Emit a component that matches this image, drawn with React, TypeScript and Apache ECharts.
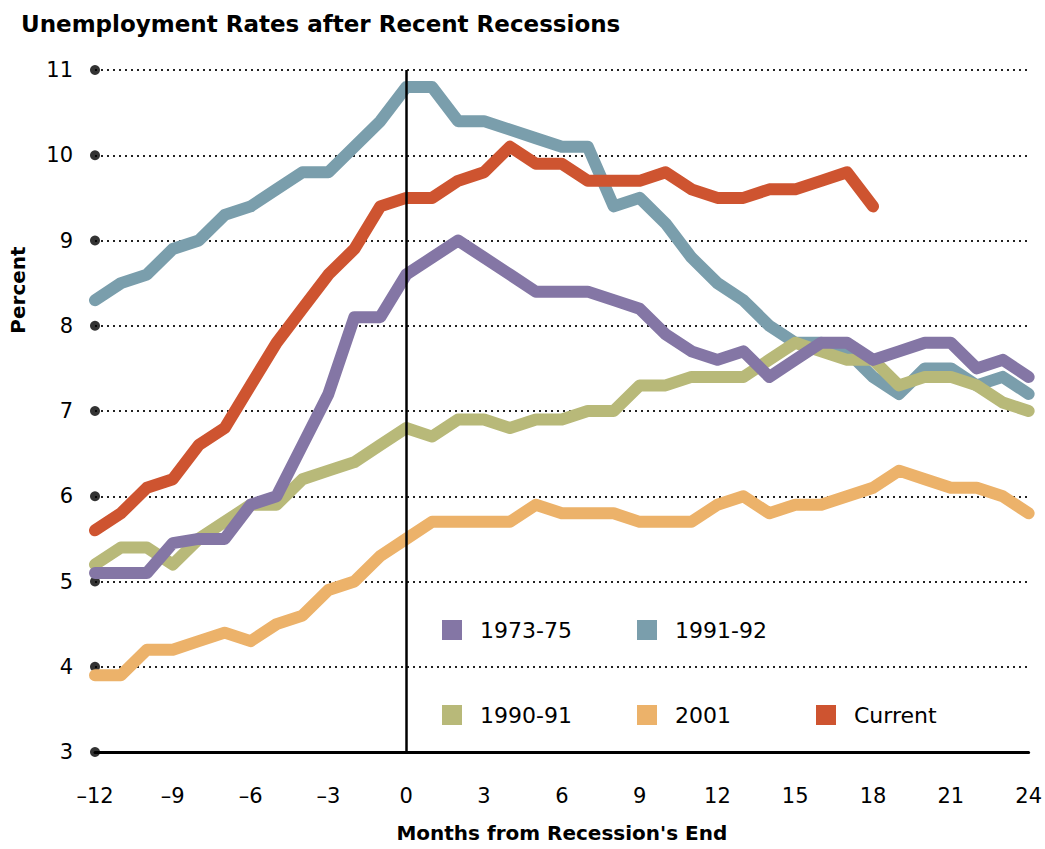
import React, { useEffect, useRef } from "react";
import * as echarts from "echarts";

const months = [-12, -11, -10, -9, -8, -7, -6, -5, -4, -3, -2, -1, 0, 1, 2, 3, 4, 5, 6, 7, 8, 9, 10, 11, 12, 13, 14, 15, 16, 17, 18, 19, 20, 21, 22, 23, 24];

const r1973_75 = [5.1, 5.1, 5.1, 5.45, 5.5, 5.5, 5.9, 6.0, 6.6, 7.2, 8.1, 8.1, 8.6, 8.8, 9.0, 8.8, 8.6, 8.4, 8.4, 8.4, 8.3, 8.2, 7.9, 7.7, 7.6, 7.7, 7.4, 7.6, 7.8, 7.8, 7.6, 7.7, 7.8, 7.8, 7.5, 7.6, 7.4];
const r1991_92 = [8.3, 8.5, 8.6, 8.9, 9.0, 9.3, 9.4, 9.6, 9.8, 9.8, 10.1, 10.4, 10.8, 10.8, 10.4, 10.4, 10.3, 10.2, 10.1, 10.1, 9.4, 9.5, 9.2, 8.8, 8.5, 8.3, 8.0, 7.8, 7.8, 7.7, 7.4, 7.2, 7.5, 7.5, 7.3, 7.4, 7.2];
const r1990_91 = [5.2, 5.4, 5.4, 5.2, 5.5, 5.7, 5.9, 5.9, 6.2, 6.3, 6.4, 6.6, 6.8, 6.7, 6.9, 6.9, 6.8, 6.9, 6.9, 7.0, 7.0, 7.3, 7.3, 7.4, 7.4, 7.4, 7.6, 7.8, 7.7, 7.6, 7.6, 7.3, 7.4, 7.4, 7.3, 7.1, 7.0];
const r2001 = [3.9, 3.9, 4.2, 4.2, 4.3, 4.4, 4.3, 4.5, 4.6, 4.9, 5.0, 5.3, 5.5, 5.7, 5.7, 5.7, 5.7, 5.9, 5.8, 5.8, 5.8, 5.7, 5.7, 5.7, 5.9, 6.0, 5.8, 5.9, 5.9, 6.0, 6.1, 6.3, 6.2, 6.1, 6.1, 6.0, 5.8];
const rCurrent = [5.6, 5.8, 6.1, 6.2, 6.6, 6.8, 7.3, 7.8, 8.2, 8.6, 8.9, 9.4, 9.5, 9.5, 9.7, 9.8, 10.1, 9.9, 9.9, 9.7, 9.7, 9.7, 9.8, 9.6, 9.5, 9.5, 9.6, 9.6, 9.7, 9.8, 9.4];

const yTicks = [3, 4, 5, 6, 7, 8, 9, 10, 11];

const FONT = "DejaVu Sans";

const seriesDefs = [
  { name: "1991-92", data: r1991_92, color: "#7a9eac" },
  { name: "1990-91", data: r1990_91, color: "#b8b979" },
  { name: "2001", data: r2001, color: "#ecb26a" },
  { name: "1973-75", data: r1973_75, color: "#8476a5" },
  { name: "Current", data: rCurrent, color: "#ce5430" },
];

const legendPos: Record<string, [number, number]> = {
  "1973-75": [442, 619],
  "1991-92": [637, 619],
  "1990-91": [442, 704],
  "2001": [637, 704],
  "Current": [816, 704],
};

export default function App() {
  const ref = useRef<HTMLDivElement>(null);
  useEffect(() => {
    if (!ref.current) return;
    const chart = echarts.init(ref.current, undefined, { renderer: "svg" });
    const legends = Object.keys(legendPos).map((name) => ({
      data: [name],
      left: legendPos[name][0],
      top: legendPos[name][1],
      padding: 0,
      icon: "rect",
      itemWidth: 20,
      itemHeight: 20,
      itemStyle: { borderWidth: 0 },
      selectedMode: false,
      textStyle: { fontFamily: FONT, fontSize: 22, color: "#000", padding: [0, 0, 0, 13] },
    }));
    chart.setOption({
      animation: false,
      backgroundColor: "#fff",
      title: {
        text: "Unemployment Rates after Recent Recessions",
        left: 16,
        top: 7,
        textStyle: { fontFamily: FONT, fontSize: 23, fontWeight: "bold", color: "#000" },
      },
      legend: legends,
      grid: { left: 95, right: 14, top: 70, bottom: 97 },
      xAxis: {
        type: "value",
        min: -12,
        max: 24,
        interval: 3,
        name: "Months from Recession's End",
        nameLocation: "middle",
        nameGap: 71,
        nameTextStyle: { fontFamily: FONT, fontSize: 20, fontWeight: "bold", color: "#000" },
        axisLine: { show: true, lineStyle: { color: "#000", width: 3 } },
        axisTick: { show: false },
        splitLine: { show: false },
        axisLabel: {
          margin: 33,
          fontFamily: FONT,
          fontSize: 21,
          color: "#000",
          formatter: (v: number) => (v < 0 ? "\u2013" + Math.abs(v) : String(v)),
        },
      },
      yAxis: {
        type: "value",
        min: 3,
        max: 11,
        interval: 1,
        axisLine: { show: false },
        axisTick: { show: false },
        splitLine: { show: true, lineStyle: { color: "#222", width: 2, type: [2, 4] } },
        axisLabel: { margin: 22, fontFamily: FONT, fontSize: 21, color: "#000" },
      },
      graphic: [
        {
          type: "text",
          x: 18,
          y: 290,
          rotation: Math.PI / 2,
          style: {
            text: "Percent",
            fontFamily: FONT,
            fontSize: 20,
            fontWeight: "bold",
            fill: "#000",
            align: "center",
            verticalAlign: "middle",
          },
        },
      ],
      series: [
        {
          type: "scatter",
          silent: true,
          z: 2,
          symbolSize: 10,
          itemStyle: { color: "#000" },
          data: yTicks.map((v) => [-12, v]),
          markLine: {
            silent: true,
            symbol: ["none", "none"],
            label: { show: false },
            lineStyle: { color: "#000", width: 2.5, type: "solid" },
            data: [{ xAxis: 0 }],
          },
        },
        ...seriesDefs.map((s) => ({
          type: "line",
          name: s.name,
          z: 3,
          showSymbol: false,
          symbol: "none",
          color: s.color,
          lineStyle: { width: 12, color: s.color, cap: "round", join: "round" },
          data: s.data.map((v, i) => [months[i], v]),
        })),
      ],
    });
    return () => chart.dispose();
  }, []);
  return <div ref={ref} style={{ position: "absolute", left: 0, top: 0, width: 1045, height: 849 }} />;
}
